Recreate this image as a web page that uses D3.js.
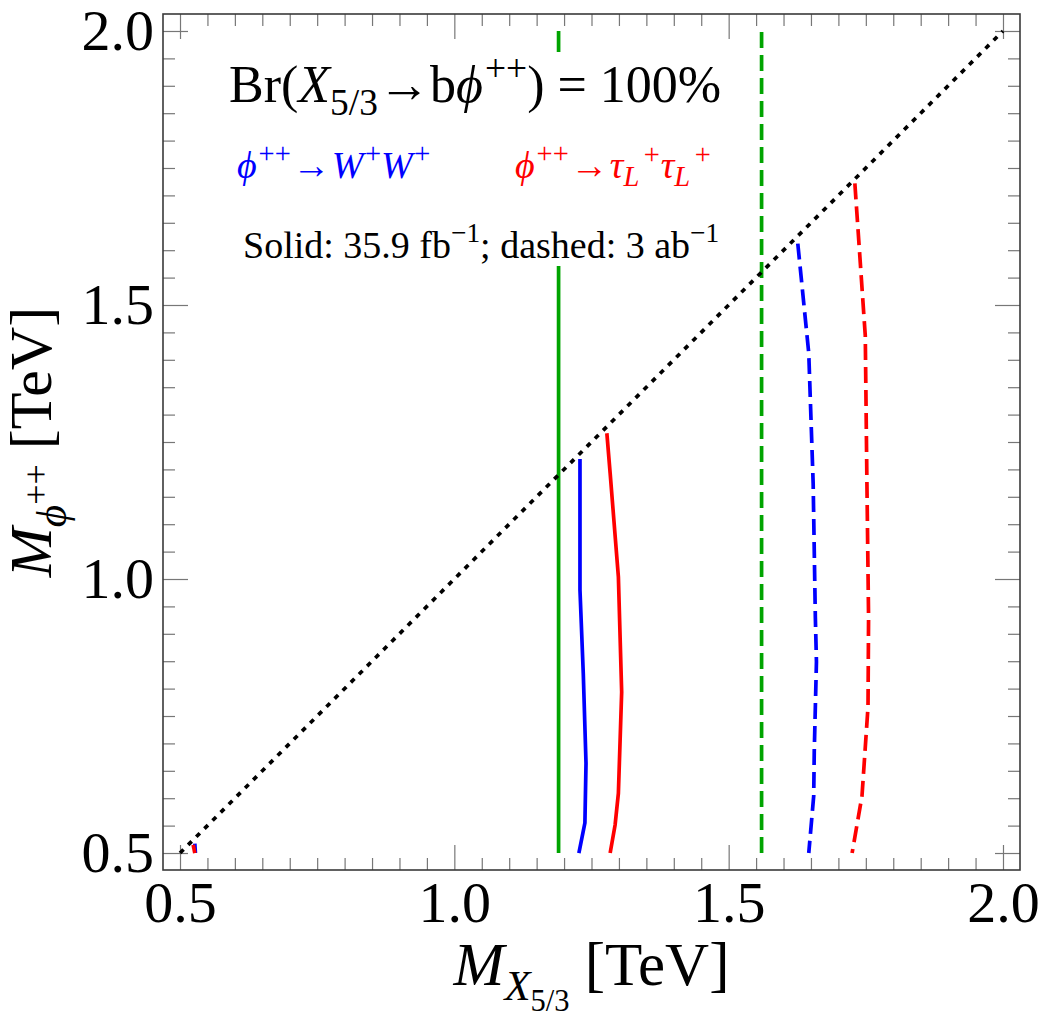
<!DOCTYPE html>
<html>
<head>
<meta charset="utf-8">
<script src="https://cdn.jsdelivr.net/npm/d3@7"></script>
<style>
  body { margin: 0; background: #fff; }
  svg { display: block; }
</style>
</head>
<body>
<div id="chart"></div>
<script>
// axis ticks (TeV)
const majorTicks = [0.5, 1.0, 1.5, 2.0];
const tickLabels = ["0.5", "1.0", "1.5", "2.0"];

// vertical 2016 exclusion lines (M_X5/3 in TeV)
const greenSolidX = 1.19;
const greenDashedX = 1.56;

// contours, [M_X5/3, M_phi] in TeV
const blueSolid = [[1.229, 1.219], [1.229, 0.98], [1.235, 0.828], [1.240, 0.664], [1.238, 0.555], [1.227, 0.5]];
const redSolid = [[1.278, 1.266], [1.284, 1.193], [1.299, 1.004], [1.305, 0.794], [1.299, 0.609], [1.293, 0.551], [1.284, 0.5]];
const blueDashed = [[1.626, 1.612], [1.646, 1.412], [1.654, 1.175], [1.658, 0.930], [1.660, 0.849], [1.656, 0.685], [1.655, 0.604], [1.646, 0.5]];
const redDashed = [[1.730, 1.722], [1.749, 1.444], [1.752, 1.175], [1.755, 0.930], [1.754, 0.767], [1.743, 0.604], [1.725, 0.5]];
// small pieces near the lower left corner
const blueBlob = [[0.527, 0.517], [0.528, 0.5]];
const redBlob = [[0.524, 0.515], [0.527, 0.5]];
const diagonal = [[0.5, 0.5], [2.0, 2.0]];

const W = 1042, H = 1021;
const frame = { left: 163, right: 1020, top: 14, bottom: 870 };
const serif = "'Liberation Serif', 'Times New Roman', serif";

const svg = d3.select("#chart").append("svg")
    .attr("width", W)
    .attr("height", H)
    .style("background", "#fff");

const x = d3.scaleLinear().domain([0.469, 2.031]).range([frame.left, frame.right]);
const y = d3.scaleLinear().domain([0.469, 2.031]).range([frame.bottom, frame.top]);

const minorTicks = d3.range(0.5, 2.0001, 0.05).filter(v => !majorTicks.some(m => Math.abs(m - v) < 1e-6));

// ticks (inward, all four sides)
function addAxis(axisFn, scale, transform, values, size, labels, pad) {
    const ax = axisFn(scale).tickValues(values).tickSize(-size).tickPadding(pad || 0)
        .tickFormat(labels ? ((d, i) => labels[i]) : "");
    const g = svg.append("g")
        .attr("transform", transform)
        .call(ax);
    g.select(".domain").remove();
    g.selectAll(".tick line").attr("stroke", "#777").attr("stroke-width", 1.2);
    g.selectAll(".tick text")
        .attr("fill", "#000")
        .style("font-family", serif)
        .style("font-size", "58px");
    return g;
}
addAxis(d3.axisBottom, x, `translate(0,${frame.bottom})`, majorTicks, 25, tickLabels, 11);
addAxis(d3.axisBottom, x, `translate(0,${frame.bottom})`, minorTicks, 12);
addAxis(d3.axisTop, x, `translate(0,${frame.top})`, majorTicks, 25);
addAxis(d3.axisTop, x, `translate(0,${frame.top})`, minorTicks, 12);
addAxis(d3.axisLeft, y, `translate(${frame.left},0)`, majorTicks, 25, tickLabels, 9);
addAxis(d3.axisLeft, y, `translate(${frame.left},0)`, minorTicks, 12);
addAxis(d3.axisRight, y, `translate(${frame.right},0)`, majorTicks, 25);
addAxis(d3.axisRight, y, `translate(${frame.right},0)`, minorTicks, 12);

const line = d3.line().x(d => x(d[0])).y(d => y(d[1]));
const plot = svg.append("g");

function curve(data, color, dash) {
    plot.append("path")
        .datum(data)
        .attr("d", line)
        .attr("fill", "none")
        .attr("stroke", color)
        .attr("stroke-width", 3.7)
        .attr("stroke-dasharray", dash || null);
}

curve([[greenSolidX, 0.5], [greenSolidX, 2.0]], "#00a400");
curve([[greenDashedX, 0.5], [greenDashedX, 2.0]], "#00a400", "16,7");
curve(blueBlob, "#0000ff");
curve(redBlob, "#ff0000");
curve(blueSolid, "#0000ff");
curve(redSolid, "#ff0000");
curve(blueDashed, "#0000ff", "16,7");
curve(redDashed, "#ff0000", "16,7");
curve(diagonal, "#000", "5,6.5");

// white background behind the annotation text
svg.append("rect")
    .attr("x", 224).attr("y", 52)
    .attr("width", 508).attr("height", 214)
    .attr("fill", "#fff");

svg.append("rect")
    .attr("x", frame.left).attr("y", frame.top)
    .attr("width", frame.right - frame.left)
    .attr("height", frame.bottom - frame.top)
    .attr("fill", "none")
    .attr("stroke", "#3a3a3a")
    .attr("stroke-width", 1.6);

// rich text: parts are [text, italic, relative size, baseline offset in em of the base size, dx in em]
function rich(g, px, py, size, color, parts, anchor) {
    const t = g.append("text")
        .attr("x", px).attr("y", py)
        .attr("font-family", serif)
        .attr("font-size", size)
        .attr("fill", color)
        .attr("text-anchor", anchor || "start");
    let cur = 0;
    parts.forEach(([s, it, rel, off, dx]) => {
        const o = (off || 0) * size;
        const ts = t.append("tspan")
            .attr("dy", o - cur)
            .attr("font-size", size * (rel || 1))
            .attr("font-style", it ? "italic" : "normal")
            .text(s);
        if (dx) ts.attr("dx", dx * size);
        cur = o;
    });
    return t;
}

const phi = "\u03d5";
rich(svg, 229, 102, 52, "#000", [
    ["Br(", 0], ["X", 1], ["5/3", 0, 0.72, 0.25], ["\u2192b", 0, 1, 0], [phi, 1],
    ["++", 0, 0.72, -0.4, 0.04], [") = 100%", 0, 1, 0]
]);
rich(svg, 237, 178, 38, "#0000ff", [
    [phi, 1], ["++", 0, 0.75, -0.4, 0.05], ["\u2192", 0, 1, 0, 0.04], ["W", 1, 1, 0, 0.04],
    ["+", 0, 0.75, -0.4, 0.04], ["W", 1, 1, 0], ["+", 0, 0.75, -0.4, 0.04]
]);
rich(svg, 515, 178, 38, "#ff0000", [
    [phi, 1], ["++", 0, 0.75, -0.4, 0.05], ["\u2192", 0, 1, 0, 0.04], ["\u03c4", 1, 1, 0, 0.04],
    ["L", 1, 0.75, 0.22], ["+", 0, 0.75, -0.38, 0.12], ["\u03c4", 1, 1, 0, 0.02],
    ["L", 1, 0.75, 0.22], ["+", 0, 0.75, -0.38, 0.12]
]);
rich(svg, 243, 258, 38, "#000", [
    ["Solid: 35.9 fb", 0], ["\u22121", 0, 0.72, -0.42], ["; dashed: 3 ab", 0, 1, 0],
    ["\u22121", 0, 0.72, -0.42]
]);

// axis labels
rich(svg, (frame.left + frame.right) / 2, 985, 61, "#000", [
    ["M", 1], ["X", 1, 0.7, 0.25], ["5/3", 0, 0.5, 0.42], [" [TeV]", 0, 1, 0]
], "middle");

const yl = svg.append("g").attr("transform", `translate(51,${(frame.top + frame.bottom) / 2}) rotate(-90)`);
rich(yl, 0, 0, 60, "#000", [
    ["M", 1], [phi, 1, 0.72, 0.25], ["++", 0, 0.6, -0.05], [" [TeV]", 0, 1, 0]
], "middle");
</script>
</body>
</html>
